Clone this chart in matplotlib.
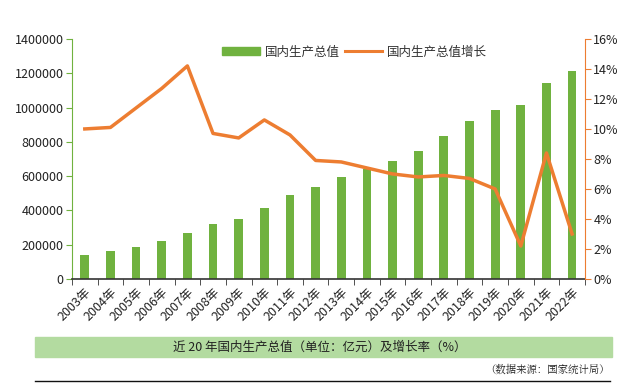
import matplotlib
matplotlib.use("Agg")
import matplotlib.pyplot as plt
from matplotlib.patches import Rectangle
from matplotlib.lines import Line2D
import numpy as np

plt.rcParams['font.family'] = ['Noto Sans CJK SC', 'DejaVu Sans']

years = ["2003年", "2004年", "2005年", "2006年", "2007年", "2008年", "2009年", "2010年",
         "2011年", "2012年", "2013年", "2014年", "2015年", "2016年", "2017年", "2018年",
         "2019年", "2020年", "2021年", "2022年"]
gdp = [137422, 161840, 187319, 219439, 270092, 319245, 348518, 412119, 487940, 538580,
       592963, 643563, 688858, 746395, 832036, 919281, 986515, 1015986, 1143670, 1210207]
growth = [10.0, 10.1, 11.4, 12.7, 14.2, 9.7, 9.4, 10.6, 9.6, 7.9,
          7.8, 7.4, 7.0, 6.8, 6.9, 6.7, 6.0, 2.2, 8.4, 3.0]

green = "#70b23f"
orange = "#ed7d31"

fig = plt.figure(figsize=(6.21, 3.86), dpi=100)
ax = fig.add_axes([0.1159, 0.2772, 0.826, 0.622])
x = np.arange(len(years))
ax.bar(x, gdp, width=0.34, color=green, zorder=2, label="国内生产总值")
ax.set_xlim(-0.5, len(years) - 0.5)
ax.set_ylim(0, 1400000)
ax.set_yticks(np.arange(0, 1400001, 200000))
ax.set_yticklabels([str(v) for v in range(0, 1400001, 200000)], fontsize=9, color="#222222")
ax.set_xticks(x)
ax.set_xticklabels(years, rotation=45, ha="right", rotation_mode="anchor", fontsize=9, color="#222222")
ax.tick_params(axis="y", length=4, color=green, pad=2)
for s in ["top", "right"]:
    ax.spines[s].set_visible(False)
ax.spines["left"].set_color(green)
ax.spines["bottom"].set_color("#333333")
ax.spines["bottom"].set_linewidth(1.2)
ax.set_xticks(np.arange(-0.5, len(years), 1), minor=True)
ax.tick_params(axis="x", which="major", length=0, pad=5)
ax.tick_params(axis="x", which="minor", length=4, color="#333333")

ax2 = ax.twinx()
ax2.plot(x, growth, color=orange, lw=2.5, zorder=3, label="国内生产总值增长")
ax2.set_ylim(0, 16)
ax2.set_yticks(np.arange(0, 17, 2))
ax2.set_yticklabels([f"{v}%" for v in range(0, 17, 2)], fontsize=9, color="#222222")
ax2.tick_params(axis="y", length=4, color=orange, pad=2)
for s in ["top", "left", "bottom"]:
    ax2.spines[s].set_visible(False)
ax2.spines["right"].set_color(orange)

handles = [Rectangle((0, 0), 1, 1, color=green), Line2D([0], [0], color=orange, lw=2.2)]
leg = fig.legend(handles, ["国内生产总值", "国内生产总值增长"], loc="center", bbox_to_anchor=(0.571, 0.865),
                 ncol=2, frameon=False, fontsize=9, handlelength=3.0, columnspacing=0.4,
                 handletextpad=0.4, handleheight=0.6)
for t in leg.get_texts():
    t.set_color("#333333")

# title band
fig.patches.append(Rectangle((35 / 621, 1 - 357 / 386), (612 - 35) / 621, 20 / 386,
                             transform=fig.transFigure, color="#b3dba0", zorder=0))
fig.text(0.515, 1 - 347 / 386, "近 20 年国内生产总值（单位：亿元）及增长率（%）", ha="center", va="center",
         fontsize=9, color="#222222")
fig.text(610 / 621, 1 - 370 / 386, "（数据来源：国家统计局）", ha="right", va="center",
         fontsize=7.5, color="#222222", family=['Noto Serif CJK SC', 'Noto Sans CJK SC', 'DejaVu Sans'])
fig.add_artist(Line2D([35 / 621, 610 / 621], [1 - 381 / 386] * 2, transform=fig.transFigure,
                      color="#111111", lw=1))

fig.savefig("out.png", dpi=100)
